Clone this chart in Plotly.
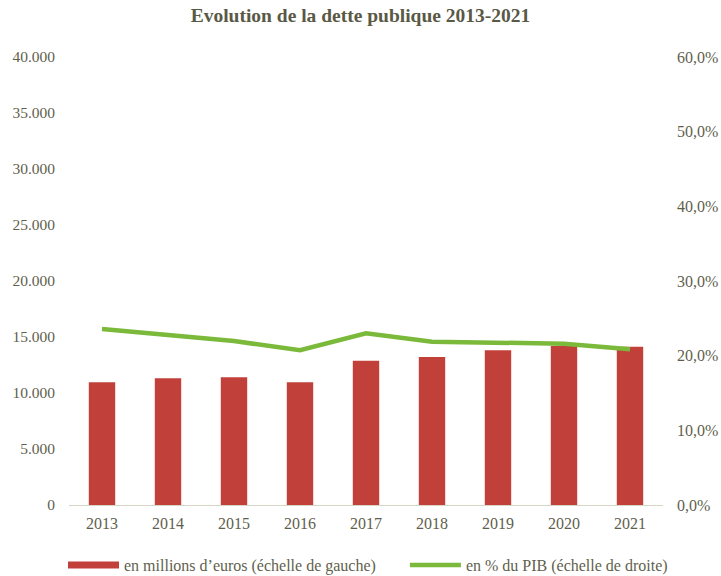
import plotly.graph_objects as go

years = ["2013", "2014", "2015", "2016", "2017", "2018", "2019", "2020", "2021"]
dette_millions = [10955, 11313, 11402, 10955, 12884, 13214, 13813, 14196, 14134]
dette_pct_pib = [23.57, 22.77, 21.96, 20.72, 23.0, 21.87, 21.74, 21.6, 20.85]

left_ticks = [0, 5000, 10000, 15000, 20000, 25000, 30000, 35000, 40000]
left_labels = ["0", "5.000", "10.000", "15.000", "20.000", "25.000", "30.000", "35.000", "40.000"]
right_ticks = [0, 10, 20, 30, 40, 50, 60]
right_labels = ["0,0%", "10,0%", "20,0%", "30,0%", "40,0%", "50,0%", "60,0%"]

name_bars = "en millions d\u2019euros (échelle de gauche)"
name_line = "en % du PIB (échelle de droite)"

font_family = "Liberation Serif, Times New Roman, serif"
txt = "#5f5f4d"
red = "#C1403A"
green = "#7AB93A"

fig = go.Figure()
fig.add_trace(go.Bar(
    x=years, y=dette_millions, name=name_bars,
    marker=dict(color=red, line=dict(width=0)), width=0.4, yaxis="y", showlegend=False,
))
fig.add_trace(go.Scatter(
    x=[None], y=[None], mode="lines", name=name_bars + "\u00a0" * 6,
    line=dict(color=red, width=7), yaxis="y",
))
fig.add_trace(go.Scatter(
    x=years, y=dette_pct_pib, mode="lines", name=name_line,
    line=dict(color=green, width=4.5), yaxis="y2",
))

fig.update_layout(
    width=721, height=576,
    margin=dict(l=69, r=58, t=57, b=71, autoexpand=False),
    paper_bgcolor="white", plot_bgcolor="white",
    font=dict(family=font_family, size=15, color=txt),
    title=dict(text="<b>Evolution de la dette publique 2013-2021</b>", x=0.5, xanchor="center",
               y=1 - 15 / 576, yanchor="middle", font=dict(size=19.5, color="#595946", family=font_family)),
    xaxis=dict(showgrid=False, showline=True, linecolor="#d6d6c6", linewidth=1, automargin=False,
               ticks="", tickfont=dict(size=16, color=txt), ticklabelstandoff=4),
    yaxis=dict(range=[0, 40000], tickvals=left_ticks, ticktext=left_labels, showgrid=False,
               showline=False, zeroline=False, ticks="", ticklabelstandoff=13, automargin=False,
               tickfont=dict(size=15.5, color=txt)),
    yaxis2=dict(range=[0, 60], tickvals=right_ticks, ticktext=right_labels, overlaying="y",
                side="right", showgrid=False, showline=False, zeroline=False, ticks="",
                ticklabelstandoff=13, automargin=False, tickfont=dict(size=16, color=txt)),
    legend=dict(orientation="h", x=-0.0101, xanchor="left", y=-0.134, yanchor="middle",
                font=dict(size=16, color=txt, family=font_family),
                itemwidth=51, bgcolor="rgba(0,0,0,0)"),
    bargap=0.6,
)

fig.write_html("out.html", config={"displayModeBar": False},
               post_script="document.body.style.margin='0';document.body.style.overflow='hidden';")
